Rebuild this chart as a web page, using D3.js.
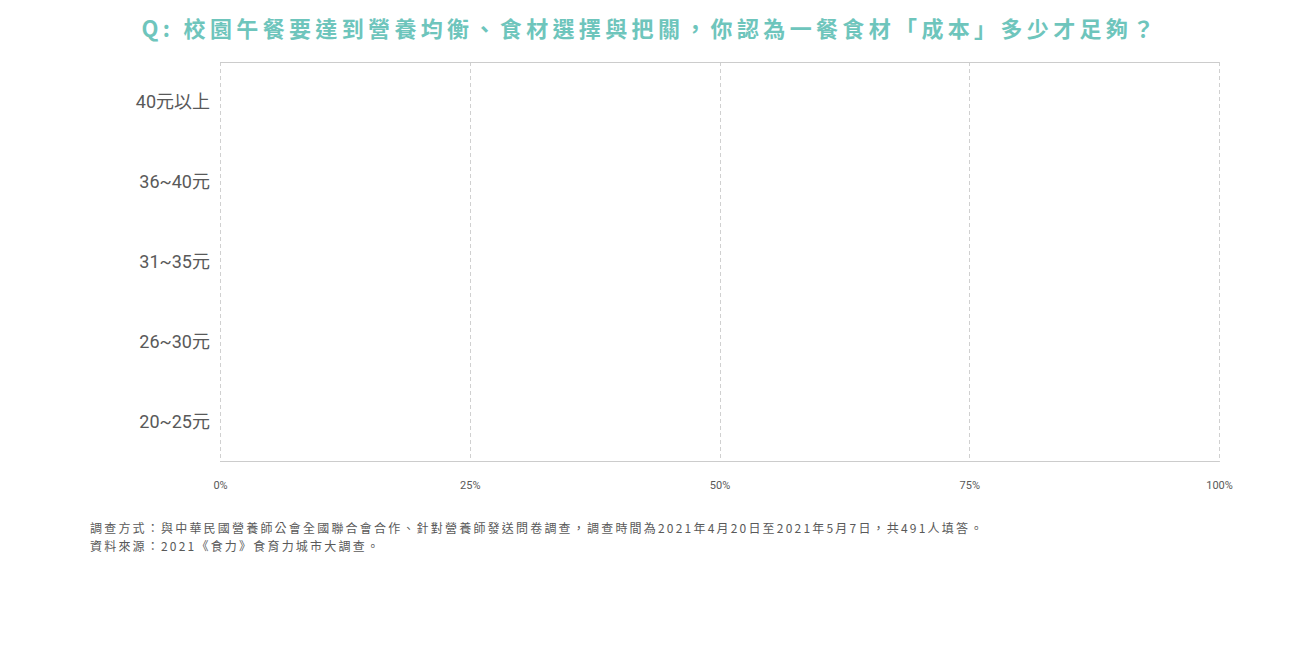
<!DOCTYPE html>
<html>
<head>
<meta charset="utf-8">
<script src="https://cdn.jsdelivr.net/npm/d3@7"></script>
<style>
  html, body { margin: 0; padding: 0; background: #fff; }
  svg { display: block; }
</style>
</head>
<body>
<svg id="chart" width="1300" height="660"></svg>
<script>
const titleText = "Q: 校園午餐要達到營養均衡、食材選擇與把關，你認為一餐食材「成本」多少才足夠？";
const categories = ["40元以上", "36~40元", "31~35元", "26~30元", "20~25元"];
// No bars are visible in the reference: every bar reads as 0%.
const values = [0, 0, 0, 0, 0];
const xTicks = [0, 0.25, 0.5, 0.75, 1];
const notes = [
  "調查方式：與中華民國營養師公會全國聯合會合作、針對營養師發送問卷調查，調查時間為2021年4月20日至2021年5月7日，共491人填答。",
  "資料來源：2021《食力》食育力城市大調查。"
];

const svg = d3.select("#chart");
const margin = {left: 220, right: 81, top: 62, bottom: 198};
const W = 1300, H = 660;
const iw = W - margin.left - margin.right;
const ih = H - margin.top - margin.bottom;

svg.append("text")
  .attr("x", 650).attr("y", 37)
  .attr("text-anchor", "middle")
  .attr("fill", "#6ec5bc")
  .attr("font-family", "'Noto Sans CJK TC', 'Noto Sans', sans-serif")
  .attr("font-weight", "bold")
  .attr("font-size", 22)
  .attr("letter-spacing", 4.35)
  .text(titleText);

const g = svg.append("g").attr("transform", `translate(${margin.left},${margin.top})`);

const x = d3.scaleLinear().domain([0, 1]).range([0, iw]);
const y = d3.scaleBand().domain(categories).range([0, ih]).paddingInner(0.3).paddingOuter(0.15);

// grid lines
g.append("g").selectAll("line").data(xTicks).join("line")
  .attr("x1", d => Math.round(x(d)) + 0.5).attr("x2", d => Math.round(x(d)) + 0.5)
  .attr("y1", 0).attr("y2", ih)
  .attr("stroke", "#d0d0d0").attr("stroke-width", 1)
  .attr("stroke-dasharray", "4,3");

// top border and bottom axis line
g.append("line").attr("x1", 0).attr("x2", iw).attr("y1", 0.5).attr("y2", 0.5)
  .attr("stroke", "#cccccc");
g.append("line").attr("x1", 0).attr("x2", iw).attr("y1", ih - 0.5).attr("y2", ih - 0.5)
  .attr("stroke", "#cccccc");

// bars
g.append("g").selectAll("rect").data(values).join("rect")
  .attr("x", x(0))
  .attr("y", (d, i) => y(categories[i]))
  .attr("height", y.bandwidth())
  .attr("width", d => x(d) - x(0))
  .attr("fill", "#6ec5bc");

// y axis labels
const yAxis = d3.axisLeft(y).tickSize(0).tickPadding(10);
const ya = g.append("g").call(yAxis);
ya.select(".domain").remove();
ya.selectAll("text")
  .attr("dy", "0.36em")
  .attr("font-family", "Roboto, 'Noto Sans CJK TC', sans-serif")
  .attr("font-size", 18)
  .attr("fill", "#595959");

// x axis labels
const xAxis = d3.axisBottom(x).tickValues(xTicks).tickFormat(d3.format(".0%")).tickSize(0).tickPadding(19);
const xa = g.append("g").attr("transform", `translate(0,${ih})`).call(xAxis);
xa.select(".domain").remove();
xa.selectAll("text")
  .attr("font-family", "Roboto, sans-serif")
  .attr("font-size", 11)
  .attr("fill", "#595959");

// notes
svg.append("g").selectAll("text").data(notes).join("text")
  .attr("x", 90).attr("y", (d, i) => 533 + i * 18)
  .attr("font-family", "'Noto Sans CJK TC', sans-serif")
  .attr("font-size", 12)
  .attr("letter-spacing", 2.2)
  .attr("fill", "#595959")
  .text(d => d);
</script>
</body>
</html>
